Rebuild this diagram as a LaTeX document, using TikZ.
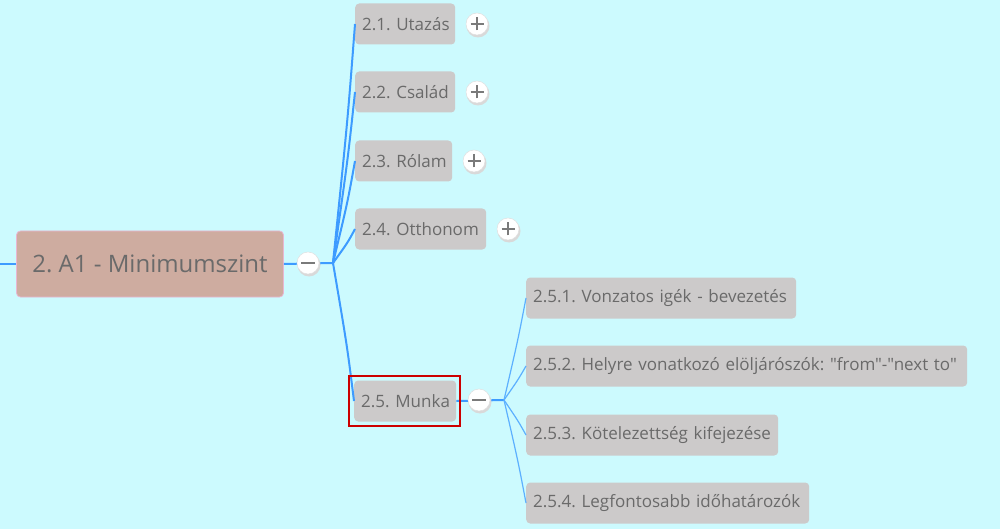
\documentclass[tikz,border=0pt]{standalone}
\usepackage{fontspec}
\newfontfamily\uifont{Open Sans}
\usetikzlibrary{calc}
\frenchspacing
\definecolor{bg}{HTML}{CCFAFE}
\definecolor{boxgray}{HTML}{CCCACA}
\definecolor{txtgray}{HTML}{6A6A6A}
\definecolor{rootfill}{HTML}{CEACA0}
\definecolor{rootline}{HTML}{E8B6D2}
\definecolor{mainblue}{HTML}{3D9BFF}
\definecolor{subblue}{HTML}{5CB0FF}
\definecolor{signgray}{HTML}{7A7A7A}
\definecolor{selred}{HTML}{CC0000}
\tikzset{
  box/.style={rectangle, rounded corners=4pt, fill=boxgray, text=txtgray,
    font=\uifont\frenchspacing\fontsize{17}{20}\selectfont, inner xsep=7pt, inner ysep=0pt,
    minimum height=41pt, anchor=west, align=left},
  bw/.style={minimum width=#1, text width=#1-14pt},
  rootbox/.style={rectangle, rounded corners=4pt, fill=rootfill, draw=rootline, line width=0.8pt,
    text=txtgray, font=\uifont\frenchspacing\fontsize{24}{28}\selectfont, inner sep=0pt,
    minimum width=267pt, minimum height=66pt},
  btn/.style={circle, fill=white, draw=black!12, line width=0.5pt, minimum size=22pt, inner sep=0pt},
  plusbtn/.style={btn, path picture={\draw[signgray,line width=1.6pt]
     (path picture bounding box.center) +(-6.5pt,0) -- +(6.5pt,0)
     (path picture bounding box.center) +(0,-6.5pt) -- +(0,6.5pt);}},
  minusbtn/.style={btn, path picture={\draw[signgray,line width=2pt]
     (path picture bounding box.center) +(-7pt,0) -- +(7pt,0);}},
  mainline/.style={draw=mainblue, line width=2pt},
  subline/.style={draw=subblue, line width=1.2pt},
}
\begin{document}
\begin{tikzpicture}[x=1pt,y=-1pt]
\fill[bg] (0,0) rectangle (1000,529);
\useasboundingbox (0,0) rectangle (1000,529);

% nodes
\node[rootbox] (root) at (150,264) {2. A1 - Minimumszint};
\node[box, bw=100pt] (c1) at (355,24) {\mbox{2.1. Utazás}};
\node[box, bw=100pt] (c2) at (355,92) {\mbox{2.2. Család}};
\node[box, bw=97pt] (c3) at (355,161) {\mbox{2.3. Rólam}};
\node[box, bw=131pt] (c4) at (355,229) {\mbox{2.4. Otthonom}};
\node[box, bw=102pt] (c5) at (354,401) {\mbox{2.5. Munka}};
\node[box, bw=270pt] (s1) at (526,298) {\mbox{2.5.1. Vonzatos igék - bevezetés}};
\node[box, bw=441pt] (s2) at (526,366) {\mbox{2.5.2. Helyre vonatkozó elöljárószók: "from"-"next to"}};
\node[box, bw=252pt] (s3) at (526,435) {\mbox{2.5.3. Kötelezettség kifejezése}};
\node[box, bw=283pt] (s4) at (526,503) {\mbox{2.5.4. Legfontosabb időhatározók}};

\coordinate (lft) at (0,264);
\coordinate (j1) at (333,263);
\coordinate (j2) at (504,400);

% connectors
\draw[mainline] (lft) -- (root.west);
\draw[mainline] (root.east) -- (j1);
\foreach \c in {c1,c2,c3,c4,c5}
  \draw[mainline] (j1) .. controls ($(j1)!0.6!(\c.west)+(1.5,0)$) .. (\c.west);
\draw[mainline] (c5.east) -- (j2);
\foreach \s in {s1,s2,s3,s4}
  \draw[subline] (j2) .. controls ($(j2)!0.6!(\s.west)+(1,0)$) .. (\s.west);

% selection frame
\draw[selred, line width=2pt] (349,376) rectangle (460,426);

% toggle buttons
\fill[black!15] (309,265) circle (11.5pt);
\node[minusbtn] (m0) at (308,263) {};
\foreach \n/\x/\y in {p1/477/24, p2/477/92, p3/474/161, p4/508/229}{
  \fill[black!15] (\x+1,\y+2) circle (11.5pt);
  \node[plusbtn] (\n) at (\x,\y) {};
}
\fill[black!15] (480,402) circle (11.5pt);
\node[minusbtn] (m5) at (479,400) {};
\end{tikzpicture}
\end{document}
